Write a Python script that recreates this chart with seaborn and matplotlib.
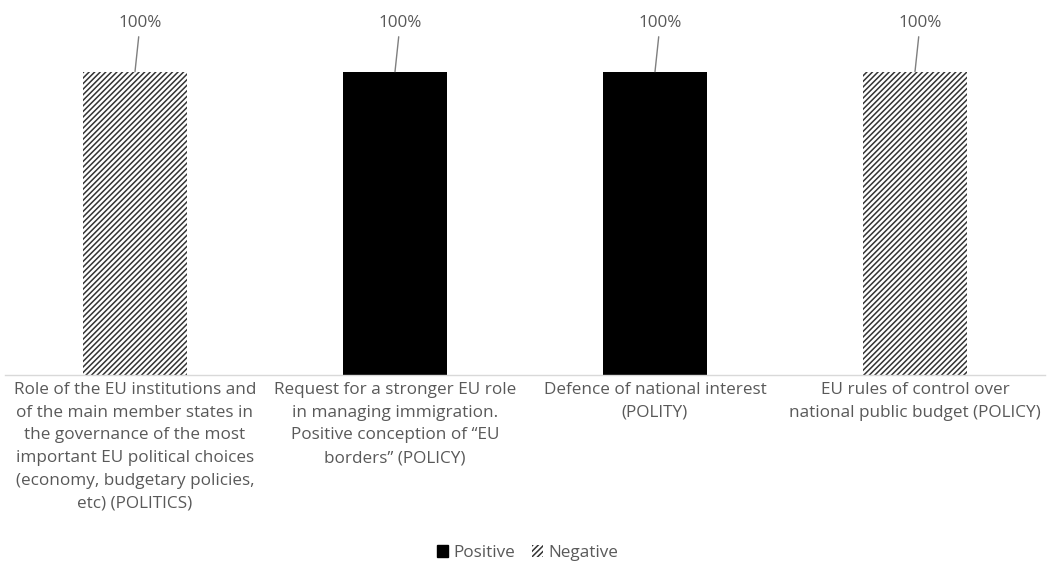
import matplotlib
matplotlib.use("Agg")
import matplotlib.pyplot as plt
import seaborn as sns
import pandas as pd
from matplotlib.patches import Patch

categories = [
    "Role of the EU institutions and\nof the main member states in\nthe governance of the most\nimportant EU political choices\n(economy, budgetary policies,\netc) (POLITICS)",
    "Request for a stronger EU role\nin managing immigration.\nPositive conception of \u201cEU\nborders\u201d (POLICY)",
    "Defence of national interest\n(POLITY)",
    "EU rules of control over\nnational public budget (POLICY)",
]
positive = [0, 100, 100, 0]
negative = [100, 0, 0, 100]
series_names = ["Positive", "Negative"]
value_labels = ["100%", "100%", "100%", "100%"]

sns.set_theme(style="white")
plt.rcParams['font.family'] = ['Open Sans', 'DejaVu Sans']
plt.rcParams['hatch.linewidth'] = 1.1

TXT = "#595959"
FS = 12.3

df = pd.DataFrame({
    "category": categories * 2,
    "series": [series_names[0]] * 4 + [series_names[1]] * 4,
    "value": positive + negative,
})

fig = plt.figure(figsize=(10.55, 5.79), dpi=100)
ax = fig.add_axes([5 / 1055, 1 - 375 / 579, 1040 / 1055, (375 - 11) / 579])

sns.barplot(data=df, x="category", y="value", hue="series", hue_order=series_names,
            dodge=False, width=0.4, ax=ax, legend=False, palette=["black", "white"],
            saturation=1)

n = len(categories)
for i, p in enumerate(ax.patches):
    if i >= n:
        p.set_facecolor("white")
        p.set_edgecolor("#333333")
        p.set_hatch("//////")
        p.set_linewidth(0)
    else:
        p.set_edgecolor("black")
        p.set_linewidth(0)

ax.set_ylim(0, 120)
ax.set_xlim(-0.5, n - 0.5)
ax.set_xlabel("")
ax.set_ylabel("")
ax.set_yticks([])
ax.tick_params(axis="x", length=0, pad=5)
ax.set_xticks(range(n))
ax.set_xticklabels(categories, fontsize=FS, color=TXT, linespacing=1.56, va="top")
for s in ["top", "left", "right"]:
    ax.spines[s].set_visible(False)
ax.spines["bottom"].set_color("#d9d9d9")
ax.spines["bottom"].set_linewidth(1)

for i in range(n):
    v = max(positive[i], negative[i])
    ax.annotate(value_labels[i], xy=(i, v), xytext=(i + 0.02, v + 13.5),
                ha="center", va="bottom", fontsize=FS, color=TXT,
                arrowprops=dict(arrowstyle="-", color="#7f7f7f", lw=1,
                                shrinkA=2, shrinkB=0))

handles = [Patch(facecolor="black", edgecolor="black", label="Positive"),
           Patch(facecolor="white", edgecolor="#333333", hatch="//////", linewidth=0, label="Negative")]
fig.legend(handles=handles, loc="center", bbox_to_anchor=(0.5, 1 - 553 / 579), ncol=2,
           frameon=False, fontsize=FS, handlelength=0.65, handleheight=0.65,
           handletextpad=0.3, columnspacing=1.0, labelcolor=TXT)

fig.savefig("out.png", dpi=100)
